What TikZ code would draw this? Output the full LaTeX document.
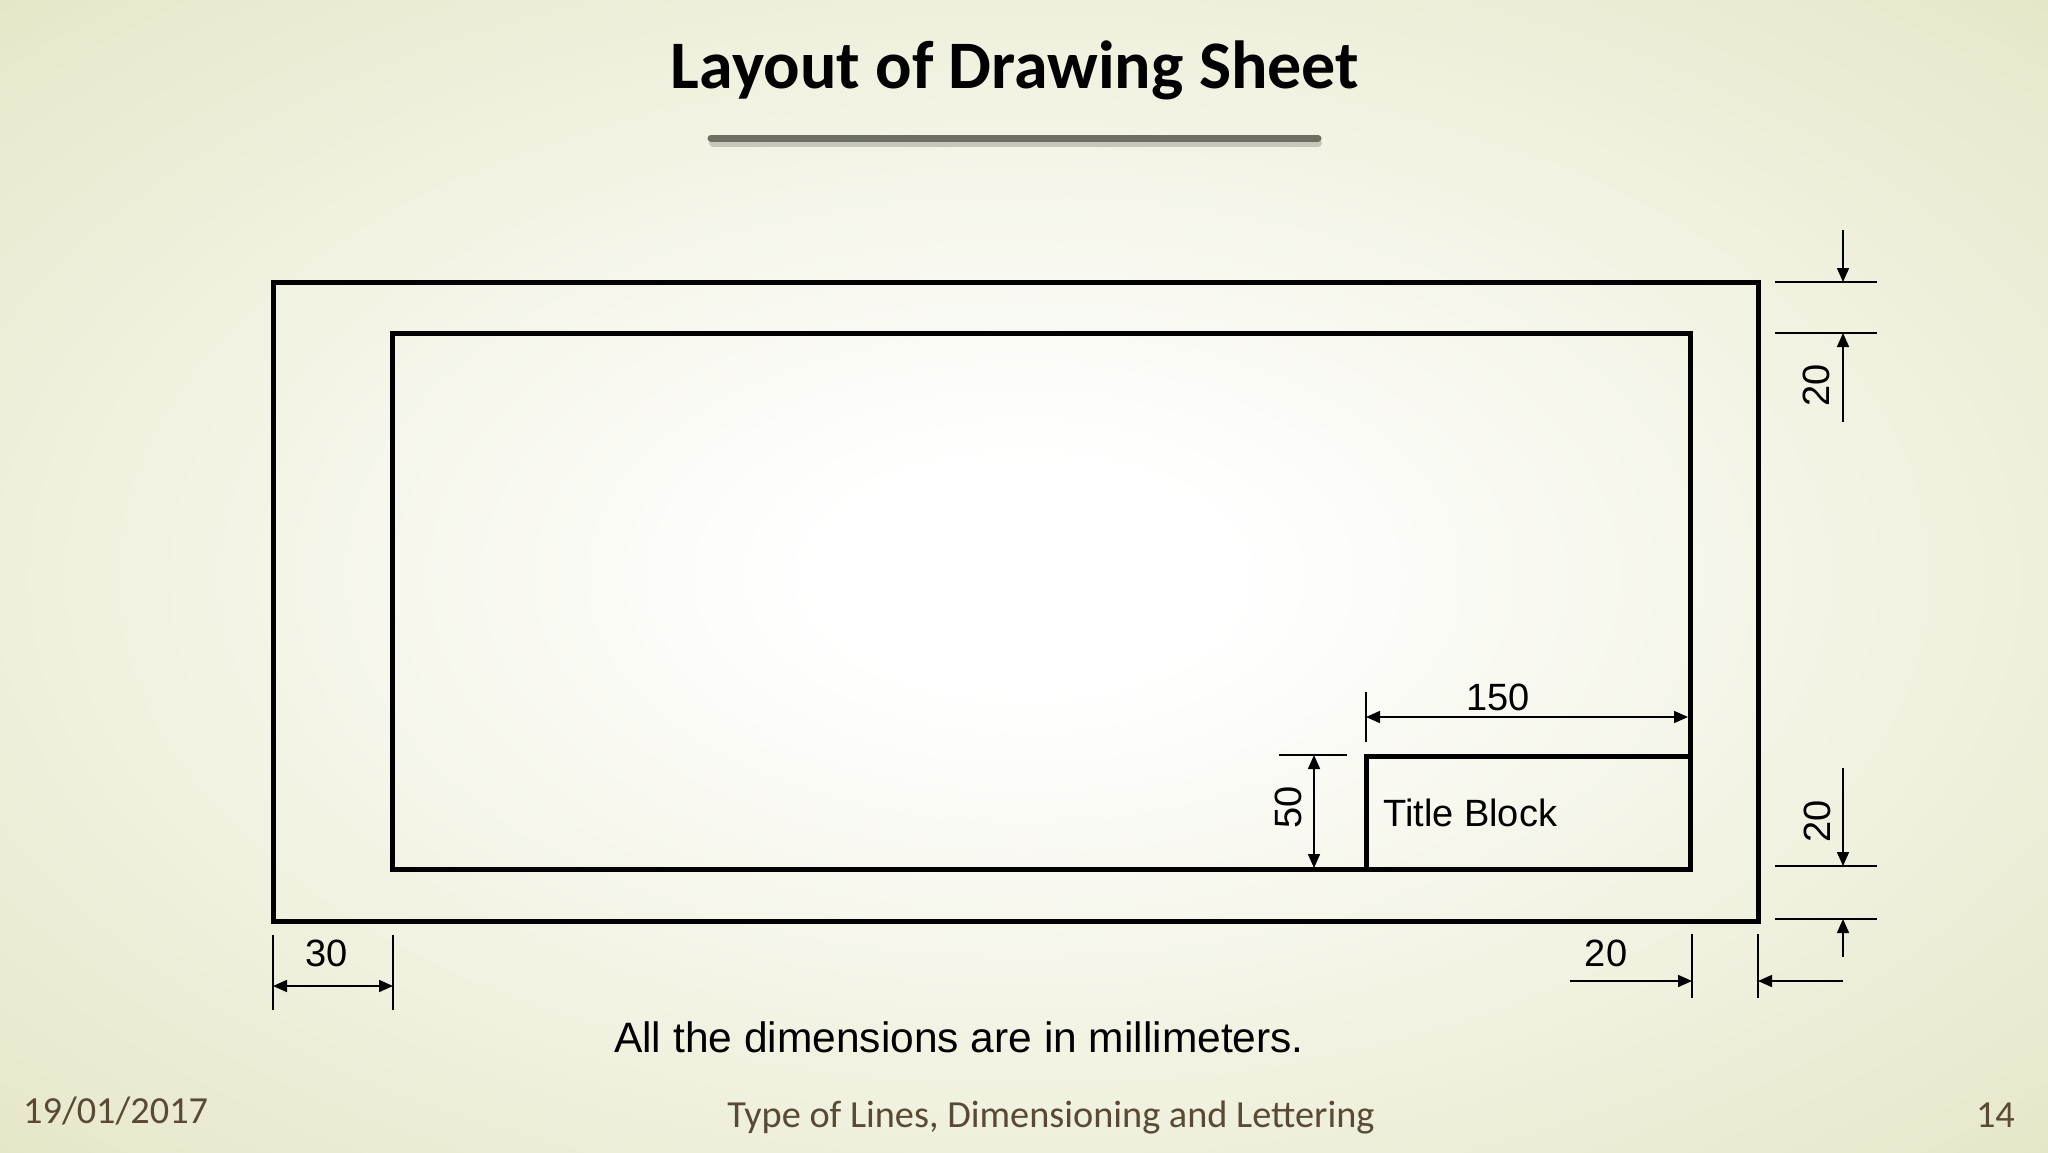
\documentclass[tikz,border=0pt]{standalone}
\usepackage{fontspec}
\setmainfont{Liberation Sans}
\newfontfamily\carlito{Carlito}
\usetikzlibrary{arrows.meta}
\definecolor{bgout}{RGB}{228,229,196}
\definecolor{barcol}{RGB}{108,112,98}
\definecolor{barshadow}{RGB}{170,172,160}
\definecolor{footcol}{RGB}{88,74,52}
\pgfdeclareradialshading{slidebg}{\pgfpoint{0bp}{0bp}}{color(0bp)=(white); color(5bp)=(white); color(38bp)=(bgout); color(50bp)=(bgout)}
\begin{document}
\begin{tikzpicture}[x=1pt,y=-1pt,
  frame/.style={line width=5pt, line join=miter},
  extline/.style={line width=1.6pt},
  dimone/.style={line width=1.6pt, -{Triangle[length=14pt,width=12pt]}},
  dimtwo/.style={line width=1.6pt, {Triangle[length=14pt,width=12pt]}-{Triangle[length=14pt,width=12pt]}},
  dimlabel/.style={inner sep=0pt, font=\fontsize{38}{44}\selectfont},
  foot/.style={inner sep=0pt, text=footcol, font=\carlito\fontsize{38.3}{44}\selectfont}]
\useasboundingbox (0,0) rectangle (2048,1152);
\shade[shading=slidebg] (0,0) rectangle (2048,1152);
% title
\node[inner sep=0pt, anchor=base] (title) at (1015,88) {\carlito\bfseries\fontsize{68}{80}\selectfont Layout of Drawing Sheet};
\draw[line width=8pt, line cap=round, barshadow, opacity=0.6] (713,143) -- (1318,143);
\draw[line width=7pt, line cap=round, barcol] (711,138) -- (1318,138);
% sheet borders
\draw[frame] (273,282) rectangle (1758,921);
\draw[frame] (392,333) rectangle (1690,869);
% title block
\draw[frame] (1366,869) -- (1366,756) -- (1690,756);
\node[dimlabel, anchor=base west] (tb) at (1383,826) {Title Block};
% 150 dimension
\coordinate (e150a) at (1366,692); \coordinate (e150b) at (1366,742);
\draw[extline] (e150a) -- (e150b);
\coordinate (d150a) at (1366,717); \coordinate (d150b) at (1688,717);
\draw[dimtwo] (d150a) -- (d150b);
\node[dimlabel] (l150) at (1498,697) {150};
% 50 dimension
\coordinate (e50a) at (1279,755); \coordinate (e50b) at (1347,755);
\draw[extline] (e50a) -- (e50b);
\coordinate (d50a) at (1314,755); \coordinate (d50b) at (1314,868);
\draw[dimtwo] (d50a) -- (d50b);
\node[dimlabel, rotate=90] (l50) at (1288,807) {50};
% 30 dimension
\draw[extline] (273,935) -- (273,1010);
\draw[extline] (393,935) -- (393,1010);
\coordinate (d30a) at (273,986); \coordinate (d30b) at (393,986);
\draw[dimtwo] (d30a) -- (d30b);
\node[dimlabel] (l30) at (327,953) {30};
% bottom right 20 dimension
\draw[extline] (1692,934) -- (1692,998);
\draw[extline] (1758,934) -- (1758,998);
\coordinate (d20a) at (1570,981); \coordinate (d20b) at (1692,981);
\coordinate (d20c) at (1843,981); \coordinate (d20d) at (1758,981);
\draw[dimone] (d20a) -- (d20b);
\draw[dimone] (d20c) -- (d20d);
\node[dimlabel] (l20b) at (1606,953) {20};
% right top 20 dimension
\draw[extline] (1775,282) -- (1877,282);
\draw[extline] (1775,333) -- (1877,333);
\coordinate (r1a) at (1843,230); \coordinate (r1b) at (1843,282);
\coordinate (r1c) at (1843,422); \coordinate (r1d) at (1843,333);
\draw[dimone] (r1a) -- (r1b);
\draw[dimone] (r1c) -- (r1d);
\node[dimlabel, rotate=90] (l20t) at (1816,385) {20};
% right bottom 20 dimension
\draw[extline] (1775,866) -- (1877,866);
\draw[extline] (1775,919) -- (1877,919);
\coordinate (r2a) at (1843,768); \coordinate (r2b) at (1843,866);
\coordinate (r2c) at (1843,957); \coordinate (r2d) at (1843,919);
\draw[dimone] (r2a) -- (r2b);
\draw[dimone] (r2c) -- (r2d);
\node[dimlabel, rotate=90] (l20r) at (1817,821) {20};
% note
\node[inner sep=0pt, anchor=base west, font=\fontsize{42.5}{50}\selectfont] (note) at (614,1052) {All the dimensions are in millimeters.};
% footer
\node[foot, anchor=base west] (date) at (23,1123) {19/01/2017};
\node[foot, anchor=base] (ftitle) at (1051,1127) {Type of Lines, Dimensioning and Lettering};
\node[foot, anchor=base east] (page) at (2015,1127) {14};
\end{tikzpicture}
\end{document}
